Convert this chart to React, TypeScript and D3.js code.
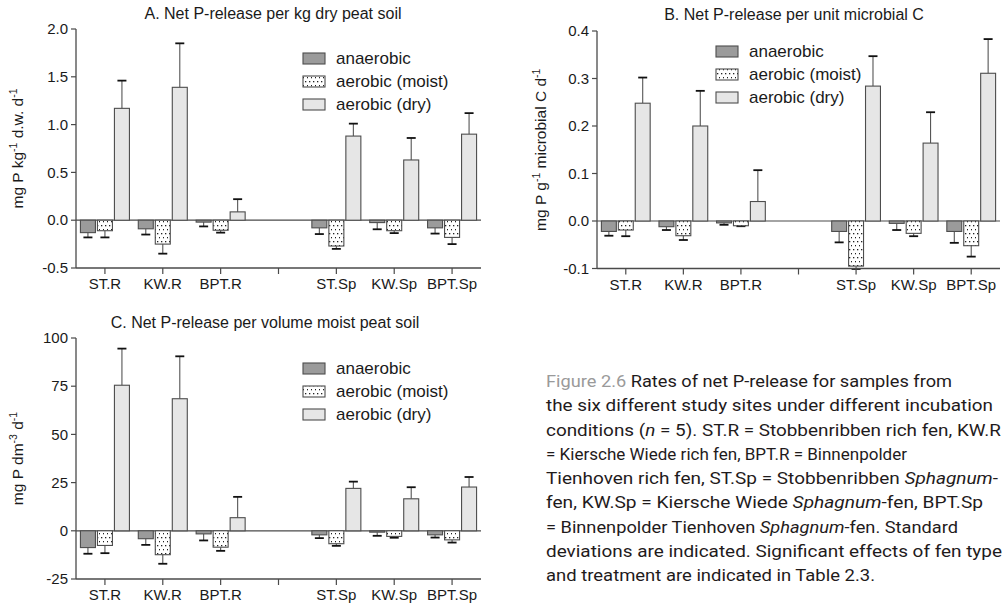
import React from "react";
import * as d3 from "d3";

// Site slots along the x axis; "gap" separates rich fens from Sphagnum fens
const slots = ["ST.R", "KW.R", "BPT.R", "gap", "ST.Sp", "KW.Sp", "BPT.Sp"];
const sites = ["ST.R", "KW.R", "BPT.R", "ST.Sp", "KW.Sp", "BPT.Sp"];
const treatments = ["anaerobic", "aerobic (moist)", "aerobic (dry)"];

// A. per kg dry peat soil (mg P kg-1 d.w. d-1)
const soilAnaerobic = [-0.13, -0.09, -0.02, -0.08, -0.025, -0.08];
const soilAnaerobicSd = [0.05, 0.06, 0.045, 0.065, 0.07, 0.06];
const soilMoist = [-0.11, -0.25, -0.105, -0.27, -0.11, -0.18];
const soilMoistSd = [0.07, 0.1, 0.025, 0.03, 0.025, 0.07];
const soilDry = [1.17, 1.39, 0.087, 0.88, 0.63, 0.9];
const soilDrySd = [0.29, 0.46, 0.133, 0.13, 0.23, 0.22];
const soilTicks = [-0.5, 0, 0.5, 1, 1.5, 2];
const soilTickLabels = ["-0.5", "0.0", "0.5", "1.0", "1.5", "2.0"];

// B. per unit microbial C (mg P g-1 microbial C d-1)
const microAnaerobic = [-0.022, -0.012, -0.004, -0.022, -0.005, -0.022];
const microAnaerobicSd = [0.009, 0.007, 0.004, 0.023, 0.014, 0.024];
const microMoist = [-0.019, -0.031, -0.01, -0.095, -0.026, -0.052];
const microMoistSd = [0.013, 0.009, 0.001, 0.006, 0.006, 0.023];
const microDry = [0.248, 0.2, 0.041, 0.284, 0.164, 0.311];
const microDrySd = [0.054, 0.074, 0.066, 0.063, 0.065, 0.072];
const microTicks = [-0.1, 0, 0.1, 0.2, 0.3, 0.4];
const microTickLabels = ["-0.1", "0.0", "0.1", "0.2", "0.3", "0.4"];

// C. per volume moist peat soil (mg P dm-3 d-1)
const volAnaerobic = [-8.7, -4.1, -1.6, -2.1, -0.7, -2.1];
const volAnaerobicSd = [3.2, 3.2, 3.4, 1.7, 1.9, 1.4];
const volMoist = [-7.6, -12.4, -8.5, -6.7, -2.9, -4.7];
const volMoistSd = [4.0, 4.7, 1.9, 1.1, 0.7, 1.4];
const volDry = [75.5, 68.5, 6.8, 22.0, 16.6, 22.7];
const volDrySd = [19.0, 22.0, 10.8, 3.5, 6.0, 5.2];
const volTicks = [-25, 0, 25, 50, 75, 100];
const volTickLabels = ["-25", "0", "25", "50", "75", "100"];

const FONT = "'Liberation Sans', Arial, Helvetica, sans-serif";
const CAPTION_FONT = "Roboto, 'Liberation Sans', sans-serif";
const AXIS = "#4a4a4a";
const fills: Record<string, string> = {
  anaerobic: "#9b9b9b",
  "aerobic (moist)": "url(#dots)",
  "aerobic (dry)": "#e6e6e6",
};

type Series = { name: string; values: number[]; sd: number[] };

type LabelPart = { t: string; sup?: boolean };

interface PanelProps {
  left: number;
  right: number;
  top: number;
  bottom: number;
  domain: [number, number];
  ticks: number[];
  tickLabels: string[];
  series: Series[];
  title: string;
  titleX: number;
  titleY: number;
  label: LabelPart[];
  labelX: number;
  legendX: number;
  legendY: number;
  legendStep: number;
}

function Panel(p: PanelProps) {
  const x = d3.scaleBand<string>().domain(slots).range([p.left, p.right]);
  const groupHalf = x.bandwidth() * 0.4235;
  const inner = d3
    .scaleBand<string>()
    .domain(treatments)
    .range([-groupHalf, groupHalf])
    .paddingInner(2 / 17);
  const y = d3.scaleLinear().domain(p.domain).range([p.bottom, p.top]);
  const y0 = y(0);

  return (
    <g>
      <text x={p.titleX} y={p.titleY} textAnchor="middle" fontSize={16} fill="#1a1a1a" fontFamily={FONT}>
        {p.title}
      </text>

      {/* zero line */}
      <line x1={p.left} x2={p.right} y1={y0} y2={y0} stroke={AXIS} strokeWidth={1.2} />

      {/* bars with error bars */}
      {p.series.map((s) =>
        s.values.map((v, i) => {
          const cx = (x(sites[i]) as number) + x.bandwidth() / 2 + (inner(s.name) as number);
          const w = inner.bandwidth();
          const yv = y(v);
          const end = v + Math.sign(v) * s.sd[i];
          const ye = y(end);
          const mid = cx + w / 2;
          return (
            <g key={s.name + i}>
              <line x1={mid} x2={mid} y1={yv} y2={ye} stroke="#555" strokeWidth={1.1} />
              <line x1={mid - 4.5} x2={mid + 4.5} y1={ye} y2={ye} stroke="#111" strokeWidth={1.8} />
              <rect
                x={cx}
                y={Math.min(yv, y0)}
                width={w}
                height={Math.abs(yv - y0)}
                fill={fills[s.name]}
                stroke="#4d4d4d"
                strokeWidth={1.1}
              />
            </g>
          );
        })
      )}

      {/* y axis */}
      <line x1={p.left} x2={p.left} y1={p.top} y2={p.bottom} stroke={AXIS} strokeWidth={1.3} />
      {p.ticks.map((t, i) => (
        <g key={"yt" + i}>
          <line x1={p.left - 5} x2={p.left} y1={y(t)} y2={y(t)} stroke={AXIS} strokeWidth={1.2} />
          <text
            x={p.left - 8}
            y={y(t)}
            dy="0.35em"
            textAnchor="end"
            fontSize={15}
            fill="#1a1a1a"
            fontFamily={FONT}
          >
            {p.tickLabels[i]}
          </text>
        </g>
      ))}

      {/* x axis */}
      <line x1={p.left} x2={p.right} y1={p.bottom} y2={p.bottom} stroke={AXIS} strokeWidth={1.3} />
      {slots.map((s) => {
        const cx = (x(s) as number) + x.bandwidth() / 2;
        return (
          <g key={"xt" + s}>
            <line x1={cx} x2={cx} y1={p.bottom} y2={p.bottom + 6} stroke={AXIS} strokeWidth={1.2} />
            {s !== "gap" && (
              <text x={cx} y={p.bottom + 21} textAnchor="middle" fontSize={15} fill="#1a1a1a" fontFamily={FONT}>
                {s}
              </text>
            )}
          </g>
        );
      })}

      {/* y axis label */}
      <text
        transform={`translate(${p.labelX},${(p.top + p.bottom) / 2}) rotate(-90)`}
        textAnchor="middle"
        fontSize={15.5}
        fill="#1a1a1a"
        fontFamily={FONT}
      >
        {p.label.map((part, i) =>
          part.sup ? (
            <tspan key={i} fontSize={10.5} dy={-6}>
              {part.t}
            </tspan>
          ) : (
            <tspan key={i} dy={i > 0 && p.label[i - 1].sup ? 6 : 0}>
              {part.t}
            </tspan>
          )
        )}
      </text>

      {/* legend */}
      {treatments.map((t, i) => {
        const ly = p.legendY + i * p.legendStep;
        return (
          <g key={"lg" + t}>
            <rect x={p.legendX} y={ly} width={22} height={11} fill={fills[t]} stroke="#4d4d4d" strokeWidth={1.1} />
            <text x={p.legendX + 33} y={ly + 11} fontSize={17} fill="#1a1a1a" fontFamily={FONT}>
              {t}
            </text>
          </g>
        );
      })}
    </g>
  );
}

const seriesOf = (vals: number[][], sds: number[][]): Series[] =>
  treatments.map((name, i) => ({ name, values: vals[i], sd: sds[i] }));

type Run = { t: string; it?: boolean; gray?: boolean };
const captionLines: Run[][] = [
  [{ t: "Figure 2.6 ", gray: true }, { t: "Rates of net P-release for samples from" }],
  [{ t: "the six different study sites under different incubation" }],
  [{ t: "conditions (" }, { t: "n", it: true }, { t: " = 5). ST.R = Stobbenribben rich fen, KW.R" }],
  [{ t: "= Kiersche Wiede rich fen, BPT.R = Binnenpolder" }],
  [{ t: "Tienhoven rich fen, ST.Sp = Stobbenribben " }, { t: "Sphagnum", it: true }, { t: "-" }],
  [{ t: "fen, KW.Sp = Kiersche Wiede " }, { t: "Sphagnum", it: true }, { t: "-fen, BPT.Sp" }],
  [{ t: "= Binnenpolder Tienhoven " }, { t: "Sphagnum", it: true }, { t: "-fen. Standard" }],
  [{ t: "deviations are indicated. Significant effects of fen type" }],
  [{ t: "and treatment are indicated in Table 2.3." }],
];
const captionRight = [952, 993, 1001, 907, 998, 983, 958, 1002, 875];

export default function App() {
  const captionLeft = 546;
  return (
    <svg
      width={1002}
      height={605}
      style={{ position: "absolute", left: 0, top: 0, background: "#fff" }}
    >
      <defs>
        <pattern id="dots" width={4} height={8} patternUnits="userSpaceOnUse">
          <rect width={4} height={8} fill="#fff" />
          <rect x={1} y={1} width={1.3} height={1.3} fill="#222" />
          <rect x={3} y={5} width={1.3} height={1.3} fill="#222" />
        </pattern>
      </defs>

      <Panel
        left={76}
        right={481}
        top={29}
        bottom={268}
        domain={[-0.5, 2]}
        ticks={soilTicks}
        tickLabels={soilTickLabels}
        series={seriesOf([soilAnaerobic, soilMoist, soilDry], [soilAnaerobicSd, soilMoistSd, soilDrySd])}
        title="A. Net P-release per kg dry peat soil"
        titleX={273}
        titleY={19}
        label={[{ t: "mg P kg" }, { t: "-1", sup: true }, { t: " d.w. d" }, { t: "-1", sup: true }]}
        labelX={23}
        legendX={303}
        legendY={53}
        legendStep={23}
      />
      <Panel
        left={597}
        right={1000}
        top={31}
        bottom={268.5}
        domain={[-0.1, 0.4]}
        ticks={microTicks}
        tickLabels={microTickLabels}
        series={seriesOf([microAnaerobic, microMoist, microDry], [microAnaerobicSd, microMoistSd, microDrySd])}
        title="B. Net P-release per unit microbial C"
        titleX={794}
        titleY={20}
        label={[{ t: "mg P g" }, { t: "-1", sup: true }, { t: " microbial C d" }, { t: "-1", sup: true }]}
        labelX={546}
        legendX={716}
        legendY={46}
        legendStep={23}
      />
      <Panel
        left={76}
        right={481}
        top={338}
        bottom={579}
        domain={[-25, 100]}
        ticks={volTicks}
        tickLabels={volTickLabels}
        series={seriesOf([volAnaerobic, volMoist, volDry], [volAnaerobicSd, volMoistSd, volDrySd])}
        title="C. Net P-release per volume moist peat soil"
        titleX={265}
        titleY={328}
        label={[{ t: "mg P dm" }, { t: "-3", sup: true }, { t: " d" }, { t: "-1", sup: true }]}
        labelX={23}
        legendX={303}
        legendY={363}
        legendStep={23}
      />

      {/* figure caption */}
      {captionLines.map((runs, i) => (
        <text
          key={"cap" + i}
          x={captionLeft}
          y={387 + i * 24.25}
          fontSize={17}
          fill="#1f1b1c"
          fontFamily={CAPTION_FONT}
          textLength={captionRight[i] - captionLeft}
          lengthAdjust="spacingAndGlyphs"
        >
          {runs.map((r, j) => (
            <tspan key={j} fontStyle={r.it ? "italic" : undefined} fill={r.gray ? "#9a9a9a" : undefined}>
              {r.t}
            </tspan>
          ))}
        </text>
      ))}
    </svg>
  );
}
